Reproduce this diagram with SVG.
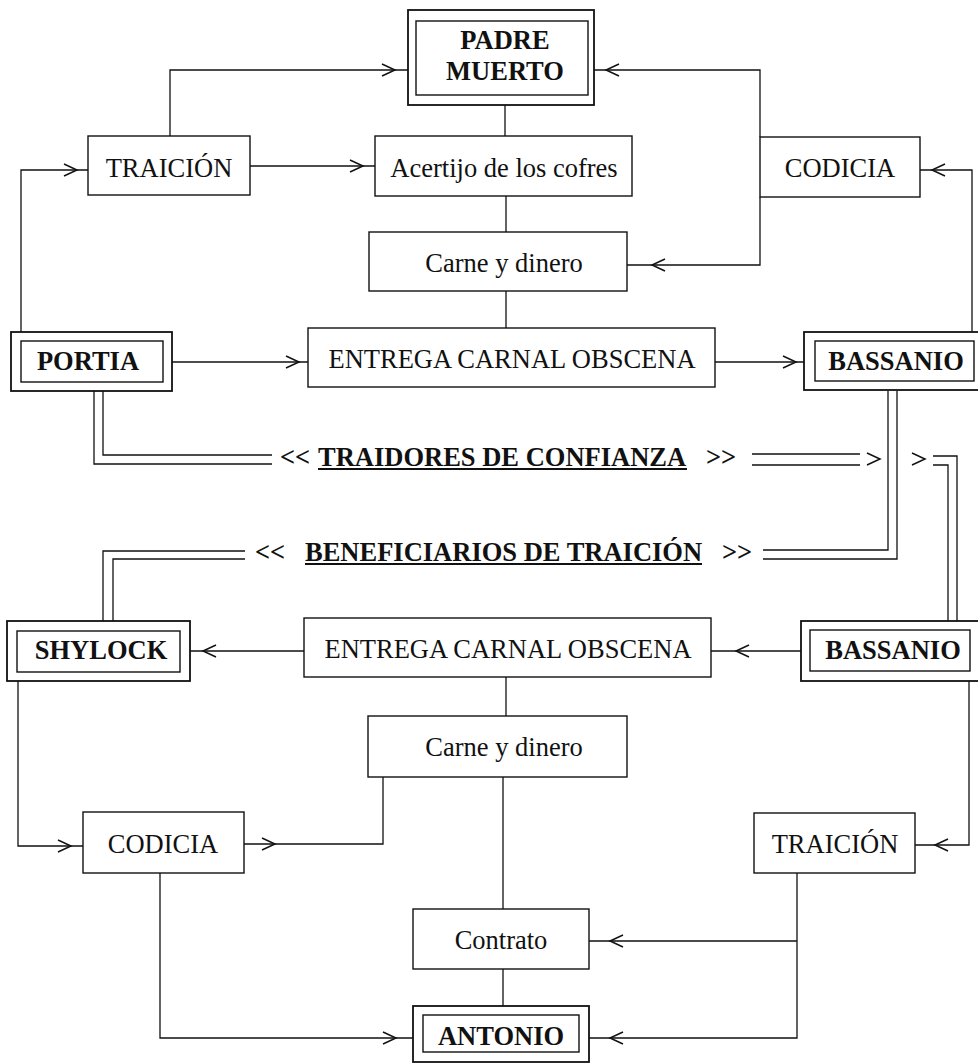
<svg xmlns="http://www.w3.org/2000/svg" xmlns:xlink="http://www.w3.org/1999/xlink" width="978" height="1064" viewBox="0 0 978 1064">
<style>
.bx{fill:#fff;stroke:#111;stroke-width:1.4}
.ob{fill:#fff;stroke:#111;stroke-width:1.8}
.ln{fill:none;stroke:#111;stroke-width:1.3}
.ch{fill:none;stroke:#111;stroke-width:1.5}
.t{font-family:"Liberation Serif","Times New Roman",serif;font-size:26.5px;fill:#111;text-anchor:middle}
.b{font-family:"Liberation Serif","Times New Roman",serif;font-size:26.5px;font-weight:bold;fill:#111;text-anchor:middle}
.lb{font-family:"Liberation Serif","Times New Roman",serif;font-size:26.5px;font-weight:bold;fill:#111}
.ul{stroke:#111;stroke-width:2}
</style>
<defs>
<path id="cr" class="ch" d="M-13,-6 L0,0 L-13,6"/>
<path id="cl" class="ch" d="M13,-6 L0,0 L13,6"/>
</defs>
<rect width="978" height="1064" fill="#fff"/>
<g id="connectors">
<path class="ln" d="M21,332 V170 H88"/>
<use href="#cr" x="77" y="170"/>
<path class="ln" d="M170,136 V70 H408"/>
<use href="#cr" x="395" y="70"/>
<path class="ln" d="M250,166 H375"/>
<use href="#cr" x="363" y="166"/>
<path class="ln" d="M505,105 V136 M506,196 V232 M506,291 V328"/>
<path class="ln" d="M760,137 V70 H594"/>
<use href="#cl" x="606" y="70"/>
<path class="ln" d="M972,332 V170 H920"/>
<use href="#cl" x="932" y="170"/>
<path class="ln" d="M760,197 V265 H627"/>
<use href="#cl" x="652" y="265"/>
<path class="ln" d="M172,362 H308"/>
<use href="#cr" x="299" y="362"/>
<path class="ln" d="M715,362 H804"/>
<use href="#cr" x="796" y="362"/>
<path class="ln" d="M94,391 V464 H272 M103,391 V455 H272"/>
<path class="ln" d="M752,454 H860 M752,465 H860"/>
<use href="#cr" x="880" y="459"/>
<path class="ln" d="M888,391 V550 H763 M897,391 V559 H763"/>
<use href="#cr" x="925" y="459"/>
<path class="ln" d="M933,456 H957 V621 M933,465 H948 V621"/>
<path class="ln" d="M245,551 H103 V621 M245,559 H113 V621"/>
<path class="ln" d="M304,651 H190"/>
<use href="#cl" x="203" y="651"/>
<path class="ln" d="M801,651 H711"/>
<use href="#cl" x="736" y="651"/>
<path class="ln" d="M506,677 V716"/>
<path class="ln" d="M383,777 V844 H244"/>
<use href="#cr" x="275" y="844"/>
<path class="ln" d="M503,777 V909"/>
<path class="ln" d="M18,681 V846 H83"/>
<use href="#cr" x="71" y="846"/>
<path class="ln" d="M160,873 V1038 H413"/>
<use href="#cr" x="396" y="1038"/>
<path class="ln" d="M969,681 V845 H915"/>
<use href="#cl" x="935" y="845"/>
<path class="ln" d="M797,873 V1038 H589 M797,941 H589"/>
<use href="#cl" x="610" y="941"/>
<use href="#cl" x="610" y="1038"/>
<path class="ln" d="M503,969 V1006"/>
</g>
<g id="padre">
<rect class="ob" x="408" y="10" width="186" height="95"/>
<rect class="bx" x="416" y="21" width="172" height="74"/>
<text class="b" x="505" y="49">PADRE</text>
<text class="b" x="505" y="80">MUERTO</text>
</g>
<g id="traicion1">
<rect class="bx" x="88" y="136" width="162" height="59"/>
<text class="t" x="169" y="177">TRAICIÓN</text>
</g>
<g id="acertijo">
<rect class="bx" x="375" y="136" width="257" height="60"/>
<text class="t" x="504" y="177">Acertijo de los cofres</text>
</g>
<g id="codicia1">
<rect class="bx" x="760" y="137" width="160" height="60"/>
<text class="t" x="840" y="177">CODICIA</text>
</g>
<g id="carne1">
<rect class="bx" x="369" y="232" width="258" height="59"/>
<text class="t" x="504" y="272">Carne y dinero</text>
</g>
<g id="entrega1">
<rect class="bx" x="308" y="328" width="407" height="59"/>
<text class="t" x="512" y="368">ENTREGA CARNAL OBSCENA</text>
</g>
<g id="portia">
<rect class="ob" x="11" y="332" width="161" height="59"/>
<rect class="bx" x="21" y="341" width="142" height="41"/>
<text class="b" x="88" y="370">PORTIA</text>
</g>
<g id="bassanio1">
<rect class="ob" x="804" y="332" width="180" height="58"/>
<rect class="bx" x="815" y="341" width="159" height="40"/>
<text class="b" x="896" y="370">BASSANIO</text>
</g>
<g id="traidores">
<text class="lb" x="280" y="466">&lt;&lt;</text>
<text class="lb" x="318" y="466">TRAIDORES DE CONFIANZA</text>
<line class="ul" x1="318" y1="469" x2="687" y2="469"/>
<text class="lb" x="706" y="466">&gt;&gt;</text>
</g>
<g id="beneficiarios">
<text class="lb" x="255" y="561">&lt;&lt;</text>
<text class="lb" x="305" y="561">BENEFICIARIOS DE TRAICIÓN</text>
<line class="ul" x1="305" y1="564" x2="702" y2="564"/>
<text class="lb" x="722" y="561">&gt;&gt;</text>
</g>
<g id="shylock">
<rect class="ob" x="7" y="621" width="183" height="60"/>
<rect class="bx" x="17" y="631" width="163" height="41"/>
<text class="b" x="101" y="659">SHYLOCK</text>
</g>
<g id="entrega2">
<rect class="bx" x="304" y="618" width="407" height="59"/>
<text class="t" x="508" y="658">ENTREGA CARNAL OBSCENA</text>
</g>
<g id="bassanio2">
<rect class="ob" x="801" y="621" width="183" height="60"/>
<rect class="bx" x="810" y="630" width="160" height="41"/>
<text class="b" x="893" y="659">BASSANIO</text>
</g>
<g id="carne2">
<rect class="bx" x="368" y="716" width="259" height="61"/>
<text class="t" x="504" y="756">Carne y dinero</text>
</g>
<g id="codicia2">
<rect class="bx" x="83" y="812" width="161" height="61"/>
<text class="t" x="163" y="853">CODICIA</text>
</g>
<g id="traicion2">
<rect class="bx" x="754" y="813" width="161" height="60"/>
<text class="t" x="835" y="853">TRAICIÓN</text>
</g>
<g id="contrato">
<rect class="bx" x="413" y="909" width="176" height="60"/>
<text class="t" x="501" y="949">Contrato</text>
</g>
<g id="antonio">
<rect class="ob" x="413" y="1006" width="176" height="56"/>
<rect class="bx" x="423" y="1015" width="156" height="37"/>
<text class="b" x="501" y="1045">ANTONIO</text>
</g>
</svg>
